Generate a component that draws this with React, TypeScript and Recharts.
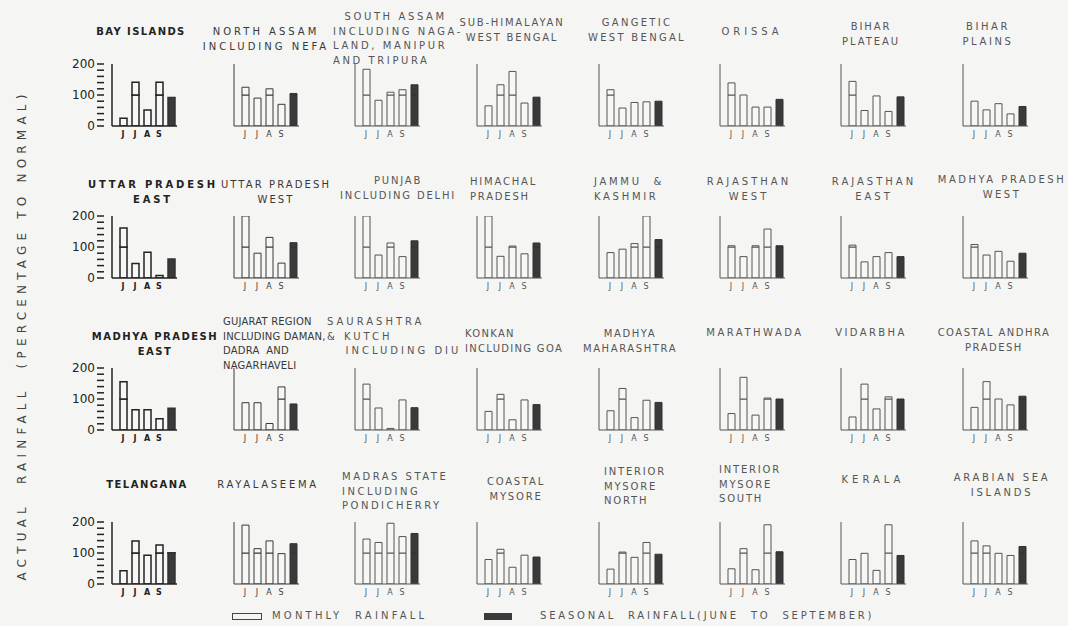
import React from 'react'
import { BarChart, Bar, XAxis, YAxis, Cell } from 'recharts'

// title lines of each sub-division, row by row (8 per row)
const regions: string[][] = [
  ['BAY ISLANDS'], ['NORTH ASSAM', 'INCLUDING NEFA'], ['  SOUTH ASSAM', 'INCLUDING NAGA-', 'LAND, MANIPUR', 'AND TRIPURA'], ['SUB-HIMALAYAN', 'WEST BENGAL'],
  ['GANGETIC', 'WEST BENGAL'], ['ORISSA'], ['BIHAR', 'PLATEAU'], ['BIHAR', 'PLAINS'],
  ['UTTAR PRADESH', 'EAST'], ['UTTAR PRADESH', 'WEST'], ['PUNJAB', 'INCLUDING DELHI'], ['HIMACHAL', 'PRADESH'],
  ['JAMMU  &', 'KASHMIR'], ['RAJASTHAN', 'WEST'], ['RAJASTHAN', 'EAST'], ['MADHYA PRADESH', 'WEST'],
  ['MADHYA PRADESH', 'EAST'], ['GUJARAT REGION', 'INCLUDING DAMAN,', 'DADRA  AND', 'NAGARHAVELI'], ['SAURASHTRA', '& KUTCH', '   INCLUDING DIU'], ['KONKAN', 'INCLUDING GOA'],
  ['MADHYA', 'MAHARASHTRA'], ['MARATHWADA'], ['VIDARBHA'], ['COASTAL ANDHRA', 'PRADESH'],
  ['TELANGANA'], ['RAYALASEEMA'], ['MADRAS STATE', 'INCLUDING', 'PONDICHERRY'], ['COASTAL', 'MYSORE'],
  ['INTERIOR', 'MYSORE', 'NORTH'], ['INTERIOR', 'MYSORE', 'SOUTH'], ['KERALA'], ['ARABIAN SEA', 'ISLANDS'],
]

// percentage of normal (values above 200 run off the top of the panel)
const june = [25, 125, 183, 65, 117, 139, 144, 80, 161, 230, 230, 230, 82, 104, 106, 108, 156, 88, 148, 60, 62, 53, 42, 73, 43, 190, 145, 79, 48, 49, 79, 139]
const july = [141, 90, 83, 133, 58, 100, 50, 52, 47, 80, 74, 70, 93, 69, 52, 74, 65, 88, 71, 115, 134, 170, 148, 156, 139, 114, 134, 112, 103, 114, 99, 123]
const august = [52, 120, 109, 176, 76, 61, 97, 72, 83, 131, 113, 103, 111, 104, 69, 86, 65, 21, 5, 33, 40, 48, 68, 100, 93, 139, 196, 54, 86, 46, 44, 99]
const september = [141, 70, 117, 74, 78, 61, 47, 39, 8, 48, 69, 78, 230, 158, 82, 54, 36, 139, 97, 97, 96, 103, 107, 81, 126, 98, 153, 93, 134, 191, 191, 92]
const seasonal = [92, 105, 133, 93, 80, 86, 94, 63, 61, 114, 120, 113, 124, 104, 69, 80, 70, 84, 72, 82, 89, 100, 100, 109, 101, 130, 163, 87, 96, 104, 92, 121]

const monthKeys = ['jun', 'jul', 'aug', 'sep', 'season']
const monthLabels = ['J', 'J', 'A', 'S', '']
const scaleTicks = [0, 20, 40, 60, 80, 100, 120, 140, 160, 180, 200]
const scaleLabels = [0, 100, 200]

// layout
const colX = [112, 234, 355, 477, 599, 720, 841, 963]
const rowBase = [126, 278, 430, 584]
const PLOT_H = 62
const TOP = 8
// [x, y of first line, align, letter spacing]
const titlePos: [number, number, 'c' | 'l', number][] = [
  [141, 32, 'c', 1.4], [266, 32, 'c', 3], [333, 17, 'l', 2.6], [512, 23, 'c', 1.8], [637, 23, 'c', 2.3], [752, 32, 'c', 3.9], [871, 27, 'c', 1.9], [988, 27, 'c', 2.6],
  [153, 185, 'c', 2.8], [276, 185, 'c', 2.1], [398, 181, 'c', 1.8], [470, 182, 'l', 1.8], [594, 182, 'l', 2.7], [749, 182, 'c', 3], [874, 182, 'c', 3], [1002, 180, 'c', 2.5],
  [155, 337, 'c', 1.5], [223, 322, 'l', 0.2], [327, 322, 'l', 3], [465, 334, 'l', 1.3], [630, 334, 'c', 1.6], [755, 333, 'c', 2.5], [871, 333, 'c', 2.4], [994, 333, 'c', 1.5],
  [147, 485, 'c', 1.5], [268, 485, 'c', 2.7], [342, 477, 'l', 2.5], [516, 482, 'c', 1.8], [604, 472, 'l', 1.8], [719, 470, 'l', 1.8], [873, 480, 'c', 4], [1002, 478, 'c', 2.7],
]

const FONT = '"DejaVu Sans", sans-serif'
const inkFor = (col: number) => (col === 0 ? '#222' : col === 1 ? '#383838' : '#555')

function Panel({ idx }: { idx: number }) {
  const col = idx % 8
  const row = Math.floor(idx / 8)
  const first = col === 0
  const ink = inkFor(col)
  const sw = first ? 1.5 : 1
  const vals = [june[idx], july[idx], august[idx], september[idx], seasonal[idx]]
  const data = monthKeys.map((key, i) => ({
    key,
    low: Math.min(vals[i], 100),
    high: vals[i] > 100 ? vals[i] - 100 : 0,
  }))
  const barW = first ? 8 : 2
  const leftW = first ? barW + 40 : barW
  const cells = data.map((d) => (
    <Cell key={d.key} fill={d.key === 'season' ? '#3a3a3a' : '#f7f7f5'} stroke={d.key === 'season' ? '#333' : ink} />
  ))

  return (
    <div style={{ position: 'absolute', left: colX[col] - leftW, top: rowBase[row] - PLOT_H - TOP }}>
      <BarChart width={leftW + 67} height={PLOT_H + TOP + 14} data={data} margin={{ top: TOP, right: 2, bottom: 0, left: 0 }} barSize={7}>
        <XAxis
          dataKey="key"
          height={14}
          interval={0}
          padding={{ left: 5, right: 0 }}
          tickLine={false}
          tickSize={4}
          tickMargin={1}
          axisLine={{ stroke: ink, strokeWidth: sw }}
          tick={{ fontSize: 8, fill: ink, fontFamily: FONT, fontWeight: first ? 'bold' : 'normal' }}
          tickFormatter={(k) => monthLabels[monthKeys.indexOf(k)]}
        />
        <YAxis yAxisId="a" type="number" domain={[0, 200]} allowDataOverflow width={barW} tick={false} tickLine={false} axisLine={{ stroke: ink, strokeWidth: sw }} />
        {first && (
          <YAxis
            yAxisId="z"
            type="number"
            domain={[0, 200]}
            allowDataOverflow
            ticks={scaleTicks}
            interval={0}
            width={40}
            axisLine={false}
            tickSize={7}
            tickMargin={2}
            tickLine={{ stroke: ink, strokeWidth: 1.5 }}
            tick={{ fontSize: 12, fill: ink, fontFamily: FONT }}
            tickFormatter={(v) => (scaleLabels.includes(v) ? String(v) : '')}
          />
        )}
        <Bar yAxisId="a" dataKey="low" stackId="s" strokeWidth={sw} isAnimationActive={false}>{cells}</Bar>
        <Bar yAxisId="a" dataKey="high" stackId="s" strokeWidth={sw} isAnimationActive={false}>{cells}</Bar>
      </BarChart>
    </div>
  )
}

function Title({ idx }: { idx: number }) {
  const [x, y, align, ls] = titlePos[idx]
  const col = idx % 8
  const style: React.CSSProperties = {
    position: 'absolute',
    top: y - 7,
    fontFamily: FONT,
    fontSize: 10,
    letterSpacing: ls,
    lineHeight: '14.5px',
    color: inkFor(col),
    whiteSpace: 'pre',
    fontWeight: col === 0 ? 'bold' : 'normal',
  }
  if (align === 'c') {
    Object.assign(style, { left: x - 100, width: 200, textAlign: 'center' })
  } else {
    Object.assign(style, { left: x, textAlign: 'left' })
  }
  return (
    <div style={style}>
      {regions[idx].map((line, i) => (
        <div key={i}>{line}</div>
      ))}
    </div>
  )
}

export default function App() {
  return (
    <div style={{ position: 'absolute', left: 0, top: 0, width: 1068, height: 626, background: '#f5f5f3', overflow: 'hidden' }}>
      <div
        style={{
          position: 'absolute',
          left: 22 - 250,
          top: 335 - 8,
          width: 500,
          textAlign: 'center',
          transform: 'rotate(-90deg)',
          fontFamily: FONT,
          fontSize: 12,
          letterSpacing: 5.2,
          color: '#444',
          whiteSpace: 'pre',
          lineHeight: '16px',
        }}
      >
        {'ACTUAL  RAINFALL  (PERCENTAGE TO NORMAL)'}
      </div>
      {regions.map((_, i) => (
        <Title key={'t' + i} idx={i} />
      ))}
      {regions.map((_, i) => (
        <Panel key={'p' + i} idx={i} />
      ))}
      <div style={{ position: 'absolute', left: 232, top: 613, width: 28, height: 5, border: '1.5px solid #444', background: '#f5f5f3' }} />
      <div style={{ position: 'absolute', left: 272, top: 610, fontFamily: FONT, fontSize: 10, letterSpacing: 3.2, color: '#555', whiteSpace: 'pre' }}>
        {'MONTHLY  RAINFALL'}
      </div>
      <div style={{ position: 'absolute', left: 484, top: 613, width: 28, height: 7, background: '#3a3a3a' }} />
      <div style={{ position: 'absolute', left: 540, top: 610, fontFamily: FONT, fontSize: 10, letterSpacing: 2.8, color: '#555', whiteSpace: 'pre' }}>
        {'SEASONAL  RAINFALL(JUNE  TO  SEPTEMBER)'}
      </div>
    </div>
  )
}
